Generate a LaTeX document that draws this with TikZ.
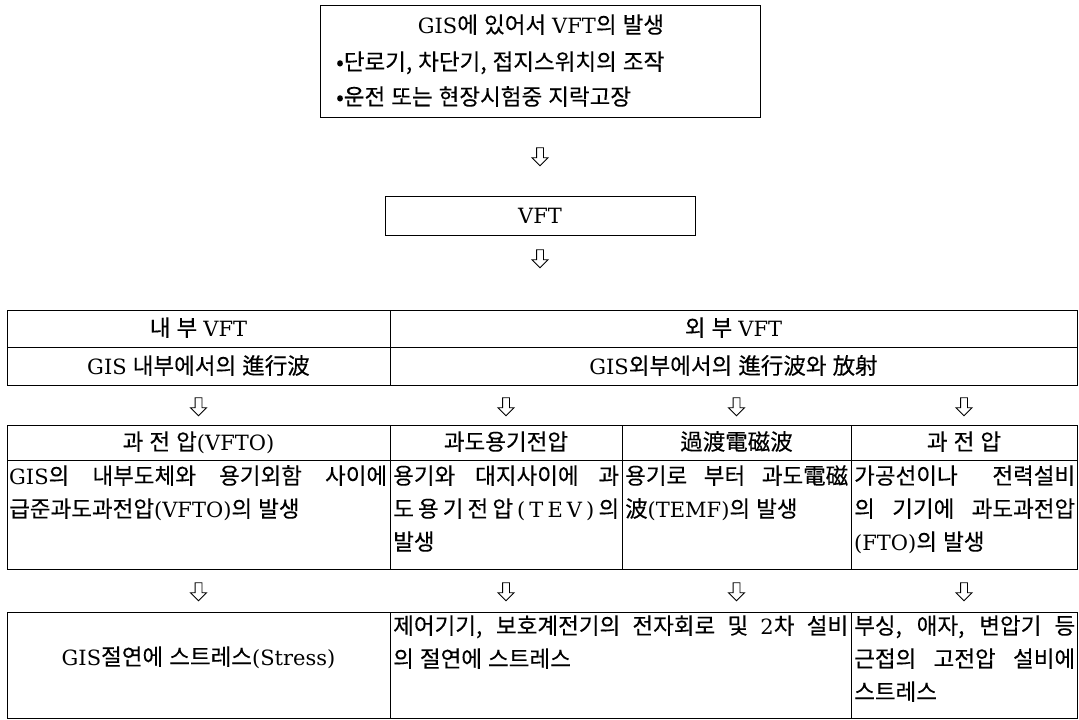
\documentclass[tikz,border=0pt]{standalone}
\usepackage{fontspec}
\setmainfont[WordSpace=1.2,FakeBold=0.25]{Noto Sans CJK KR}
\newfontfamily\lat{DejaVu Serif}
\newcommand\la[1]{{\lat\fontsize{21}{33}\selectfont #1}}
\usetikzlibrary{shapes.arrows}
\tikzset{
 cell/.style={draw=black, line width=0.9pt, anchor=north west, inner sep=0pt, outer sep=0pt},
 txt/.style={inner sep=0pt, anchor=base},
 ltxt/.style={inner sep=0pt, anchor=base west},
 darrow/.style={single arrow, draw=black, fill=white, line width=0.9pt, shape border rotate=270,
   minimum height=18pt, single arrow head extend=4.5pt, inner sep=3pt, single arrow tip angle=90},
}
\begin{document}
\begin{tikzpicture}[x=1pt,y=-1pt,font=\fontsize{22.5}{33}\selectfont]
\useasboundingbox (0,0) rectangle (1079,720);
% top box
\node[cell, minimum width=440pt, minimum height=112pt] (top) at (320,5) {};
\node[txt] (tt1) at (541,33) {\la{GIS}에 있어서 \la{VFT}의 발생};
\node[ltxt] (tt2) at (336,70) {•단로기, 차단기, 접지스위치의 조작};
\node[ltxt] (tt3) at (336,105) {•운전 또는 현장시험중 지락고장};
\node[darrow] (ar1) at (540,155) {};
% VFT box
\node[cell, minimum width=310pt, minimum height=39pt] (vft) at (385,196) {};
\node[txt] (tv) at (540,223) {\la{VFT}};
\node[darrow] (ar2) at (540,257) {};
% table 1
\node[cell, minimum width=383pt, minimum height=37pt] (ia) at (7,310) {};
\node[cell, minimum width=383pt, minimum height=38pt] (ib) at (7,347) {};
\node[cell, minimum width=687pt, minimum height=37pt] (ea) at (390,310) {};
\node[cell, minimum width=687pt, minimum height=38pt] (eb) at (390,347) {};
\node[txt] (tia) at (198.5,336) {내 부 \la{VFT}};
\node[txt] (tib) at (198.5,374) {\la{GIS} 내부에서의 進行波};
\node[txt] (tea) at (733.5,336) {외 부 \la{VFT}};
\node[txt] (teb) at (733.5,374) {\la{GIS}외부에서의 進行波와 放射};
\node[darrow] (ar3) at (198.5,405) {};
\node[darrow] (ar4) at (506,405) {};
\node[darrow] (ar5) at (736.5,405) {};
\node[darrow] (ar6) at (964,405) {};
% table 2
\node[cell, minimum width=383pt, minimum height=35pt] (h1) at (7,425) {};
\node[cell, minimum width=232pt, minimum height=35pt] (h2) at (390,425) {};
\node[cell, minimum width=229pt, minimum height=35pt] (h3) at (622,425) {};
\node[cell, minimum width=226pt, minimum height=35pt] (h4) at (851,425) {};
\node[cell, minimum width=383pt, minimum height=109pt] (b1) at (7,460) {};
\node[cell, minimum width=232pt, minimum height=109pt] (b2) at (390,460) {};
\node[cell, minimum width=229pt, minimum height=109pt] (b3) at (622,460) {};
\node[cell, minimum width=226pt, minimum height=109pt] (b4) at (851,460) {};
\node[txt] (th1) at (198.5,450) {과 전 압\la{(VFTO)}};
\node[txt] (th2) at (506,450) {과도용기전압};
\node[txt] (th3) at (736.5,450) {過渡電磁波};
\node[txt] (th4) at (964,450) {과 전 압};
\node[ltxt] (tb11) at (9,484) {\makebox[378pt][s]{\la{GIS}의 내부도체와 용기외함 사이에}};
\node[ltxt] (tb12) at (9,517) {급준과도과전압\la{(VFTO)}의 발생};
\node[ltxt] (tb21) at (393,484) {\makebox[226pt][s]{용기와 대지사이에 과}};
\node[ltxt] (tb22) at (393,517) {\makebox[226pt][l]{도\hfill 용\hfill 기\hfill 전\hfill 압\hfill\la{(}\hfill\la{T}\hfill\la{E}\hfill\la{V}\hfill\la{)}\hfill 의}};
\node[ltxt] (tb23) at (393,550) {발생};
\node[ltxt] (tb31) at (625,484) {\makebox[223pt][s]{용기로 부터 과도電磁}};
\node[ltxt] (tb32) at (625,517) {波\la{(TEMF)}의 발생};
\node[ltxt] (tb41) at (854,484) {\makebox[221pt][s]{가공선이나 전력설비}};
\node[ltxt] (tb42) at (854,517) {\makebox[221pt][s]{의 기기에 과도과전압}};
\node[ltxt] (tb43) at (854,550) {\la{(FTO)}의 발생};
\node[darrow] (ar7) at (198.5,590) {};
\node[darrow] (ar8) at (506,590) {};
\node[darrow] (ar9) at (736.5,590) {};
\node[darrow] (ar10) at (964,590) {};
% table 3
\node[cell, minimum width=383pt, minimum height=106pt] (s1) at (7,612) {};
\node[cell, minimum width=461pt, minimum height=106pt] (s2) at (390,612) {};
\node[cell, minimum width=226pt, minimum height=106pt] (s3) at (851,612) {};
\node[txt] (ts1) at (198.5,665) {\la{GIS}절연에 스트레스\la{(Stress)}};
\node[ltxt] (ts21) at (393,634) {\makebox[455pt][s]{제어기기, 보호계전기의 전자회로 및 \la{2}차 설비}};
\node[ltxt] (ts22) at (393,667) {의 절연에 스트레스};
\node[ltxt] (ts31) at (854,634) {\makebox[221pt][s]{부싱, 애자, 변압기 등}};
\node[ltxt] (ts32) at (854,667) {\makebox[221pt][s]{근접의 고전압 설비에}};
\node[ltxt] (ts33) at (854,700) {스트레스};
\end{tikzpicture}
\end{document}
